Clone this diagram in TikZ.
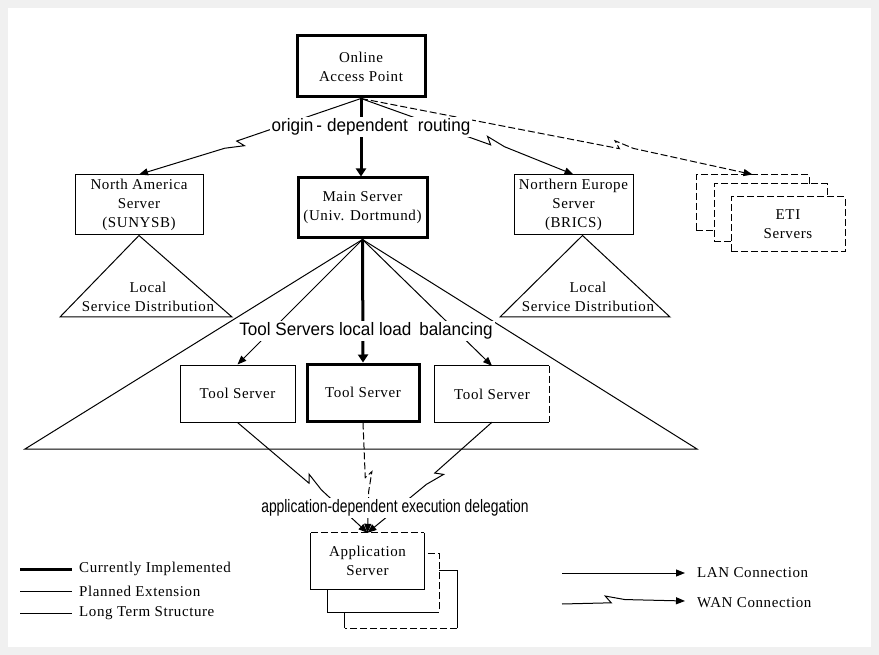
\documentclass[tikz,border=0pt]{standalone}
\usepackage{fontspec}
\setmainfont[LetterSpace=4]{Liberation Serif}
\newfontfamily\routefont[FakeStretch=0.95]{Liberation Sans}
\newfontfamily\balfont[FakeStretch=0.95]{Liberation Sans}
\newfontfamily\delegfont[FakeStretch=0.77]{Liberation Sans}
\usetikzlibrary{arrows.meta,calc}
\definecolor{framegray}{RGB}{240,240,240}

\begin{document}
\begin{tikzpicture}[x=1pt,y=-1pt,
  every node/.style={font=\fontsize{15}{19}\selectfont},
  srv/.style={draw,line width=1pt,fill=white,align=center,inner sep=0pt},
  thickbox/.style={srv,line width=3pt},
  bare/.style={fill=white,align=center,inner sep=0pt},
  dashedline/.style={dash pattern=on 7pt off 3pt},
  etibox/.style={srv,dashedline},
  thin/.style={line width=1pt},
  link/.style={line width=1pt,-{Triangle[length=9pt,width=7pt]}},
  mainlink/.style={line width=3pt,-{Triangle[length=8pt,width=10pt]}},
  wan/.style={to path={-- ($(\tikztostart)!#1!(\tikztotarget)$) coordinate (zz)
      -- ($(zz)!9pt!130:(\tikztotarget)$) -- ($(zz)!14pt!12:(\tikztotarget)$)
      -- (\tikztotarget) \tikztonodes}},
  tag/.style={fill=white,inner xsep=2pt,inner ysep=2pt},
  legend/.style={anchor=west,inner sep=0pt}
]
% page and frame
\fill[framegray] (0,0) rectangle (879,655);
\fill[white] (8,8) rectangle (871,647);

% ---------- upper level ----------
\node[thickbox,minimum width=128pt,minimum height=61pt] (oap) at (361,66.5) {Online\\Access Point};
\node[thickbox,minimum width=129pt,minimum height=60pt] (ms) at (362.5,208) {Main Server\\(Univ. Dortmund)};
\node[srv,minimum width=128pt,minimum height=60pt] (na) at (139,205) {North America\\Server\\(SUNYSB)};
\node[srv,minimum width=119pt,minimum height=60pt] (ne) at (573.5,205) {Northern Europe\\Server\\(BRICS)};

% ETI server stack (back to front)
\node[etibox,minimum width=113pt,minimum height=56pt] (eti1) at (752.5,203) {};
\node[etibox,minimum width=113pt,minimum height=58pt] (eti2) at (770.5,213) {};
\node[etibox,minimum width=114pt,minimum height=55pt] (eti3) at (788,224.5) {ETI\\Servers};

% local distribution triangles
\draw[thin] (na.south) -- (60,317) -- (232,317) -- cycle;
\node[align=center,inner sep=0pt] (nalocal) at (148,297) {Local\\Service Distribution};
\draw[thin] ($(ne.south)+(9,0)$) -- (500,317) -- (670,317) -- cycle;
\node[align=center,inner sep=0pt] (nelocal) at (588,297) {Local\\Service Distribution};

% routing from the access point
\draw[mainlink] (oap.south) -- (oap.south |- ms.north);
\draw[link] (oap.south) to[wan=0.56] (na.north);
\draw[link] (oap.south) to[wan=0.61] (ne.north);
\draw[link,dashedline] (oap.south) to[wan=0.66] (eti1.north);
\node[tag,font=\routefont\fontsize{18}{20}\selectfont] (lroute) at (371,127)
  {origin\hspace{3pt}-\hspace{5pt}dependent\hspace{10pt}routing};

% ---------- tool server level ----------
\draw[thin] (ms.south) -- (25,449) -- (697,449) -- cycle;

\node[srv,minimum width=115pt,minimum height=57pt] (tsl) at (237.5,393.5) {Tool Server};
\node[thickbox,minimum width=112pt,minimum height=57pt] (tsm) at (363,392.5) {Tool Server};
\node[bare,minimum width=114pt,minimum height=56pt] (tsr) at (492,394) {Tool Server};
\draw[thin] (tsr.north east) -- (tsr.north west) -- (tsr.south west) -- (tsr.south east);
\draw[thin,dashedline] (tsr.north east) -- (tsr.south east);

\draw[link] (ms.south) -- (tsl.north);
\draw[link] (ms.south) -- (tsr.north);
\draw[mainlink] (ms.south) -- (tsm.north);
\node[tag,font=\balfont\fontsize{18}{20}\selectfont] (lbal) at (366,331)
  {Tool Servers local load\hspace{8pt}balancing};

% ---------- application server stack (back to front) ----------
\node[bare,minimum width=112pt,minimum height=57pt] (app3) at (401,599.5) {};
\draw[thin] (app3.south west) -- (app3.north west) -- (app3.north east) -- (app3.south east);
\draw[thin,dashedline] (app3.south east) -- (app3.south west);
\node[bare,minimum width=111pt,minimum height=58pt] (app2) at (383.5,583) {};
\draw[thin] (app2.north west) -- (app2.south west) -- (app2.south east);
\draw[thin,dashedline] (app2.north west) -- (app2.north east) -- (app2.south east);
\node[bare,minimum width=113pt,minimum height=56pt] (app1) at (367.5,561) {Application\\Server};
\draw[thin] (app1.north east) -- (app1.south east) -- (app1.south west) -- (app1.north west);
\draw[thin,dashedline] (app1.north west) -- (app1.north east);

\draw[link] (tsl.south) to[wan=0.55] (app1.north);
\draw[link,dashedline] (tsm.south) to[wan=0.5] (app1.north);
\draw[link] (tsr.south) to[wan=0.46] (app1.north);
\node[tag,font=\delegfont\fontsize{18}{20}\selectfont] (ldeleg) at (395,508)
  {application-dependent execution delegation};

% ---------- legends ----------
\coordinate (k1a) at (20,569); \coordinate (k1b) at (72,569);
\coordinate (k2a) at (20,591); \coordinate (k2b) at (72,591);
\coordinate (k3a) at (20,613); \coordinate (k3b) at (72,613);
\draw[line width=3pt] (k1a) -- (k1b);
\draw[thin] (k2a) -- (k2b);
\draw[thin] (k3a) -- (k3b);
\node[legend] (k1t) at (79,569) {Currently Implemented};
\node[legend] (k2t) at (79,591) {Planned Extension};
\node[legend] (k3t) at (79,613) {Long Term Structure};

\coordinate (lan1) at (562,573); \coordinate (lan2) at (685,573);
\coordinate (wan1) at (562,604); \coordinate (wan2) at (685,601);
\draw[link] (lan1) -- (lan2);
\draw[link] (wan1) to[wan=0.4] (wan2);
\node[legend] (lant) at (697,573) {LAN Connection};
\node[legend] (want) at (697,603) {WAN Connection};
\end{tikzpicture}
\end{document}
